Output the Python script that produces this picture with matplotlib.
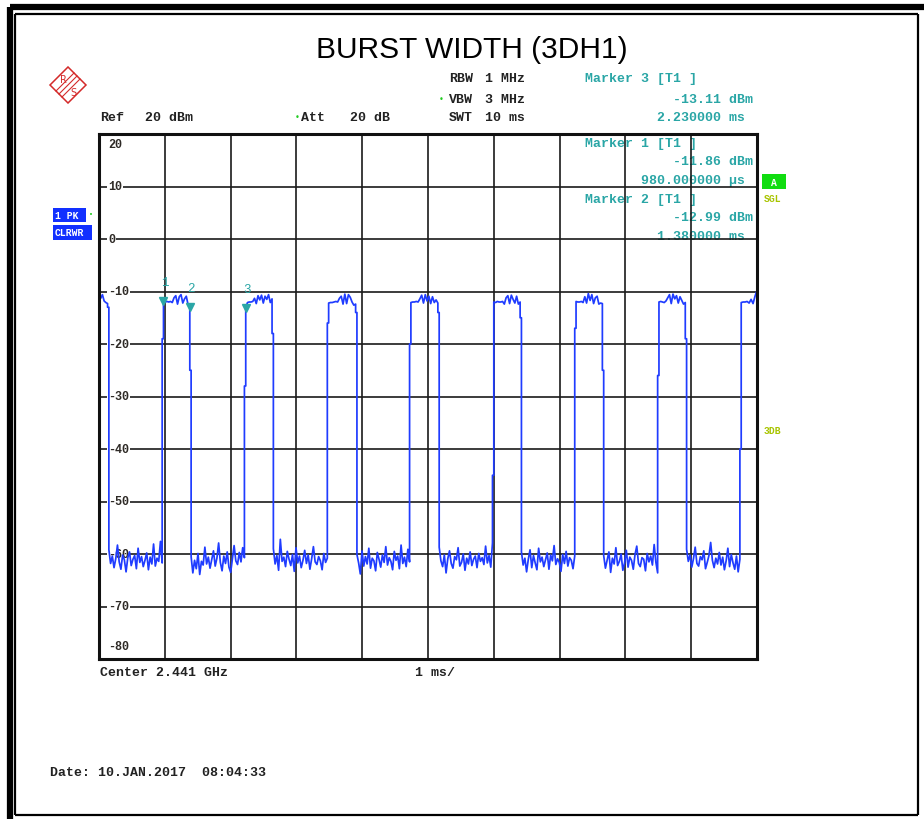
import numpy as np
import matplotlib
matplotlib.use('Agg')
import matplotlib.pyplot as plt
from matplotlib.lines import Line2D
from matplotlib.patches import Polygon, Rectangle

# Trace data (time in ms, level in dBm)
rise_t = [0.98, 2.23, 3.49, 4.74, 6.00, 7.25, 8.51, 9.76]
fall_t = [0.13, 1.38, 2.63, 3.90, 5.15, 6.40, 7.65, 8.91]
rise_mid = [-19, -28, -16, -20, -45, -17, -26, -40]
fall_mid = [-13, -25, -18, -14, -14, -15, -25, -19]

top_first = [-10.9, -11.3, -10.6, -11.8, -12.1, -12.3]
tops = [
    [-11.86, -12.0, -11.9, -12.0, -11.9, -12.1, -11.2, -10.8, -12.4, -11.0, -10.6, -12.2, -11.4, -10.9, -12.5, -12.99],
    [-13.11, -12.1, -12.0, -12.0, -11.9, -11.3, -12.3, -10.8, -11.6, -10.7, -12.2, -10.9, -11.5, -10.6, -12.1, -11.4],
    [-12.2, -12.1, -12.1, -12.0, -11.9, -12.0, -11.3, -10.9, -12.4, -10.5, -12.3, -10.6, -11.1, -12.0, -12.6, -12.4],
    [-12.1, -12.0, -12.0, -11.9, -12.0, -11.4, -10.7, -12.2, -10.6, -11.8, -10.9, -12.3, -11.0, -12.1, -11.6, -12.2],
    [-12.0, -12.1, -11.9, -12.0, -12.0, -11.9, -12.4, -11.2, -10.8, -12.3, -10.7, -11.5, -12.2, -10.9, -12.4, -12.0],
    [-11.9, -12.0, -12.0, -11.9, -12.1, -11.0, -12.2, -10.4, -11.7, -10.6, -12.3, -11.2, -10.9, -12.4, -12.2, -12.3],
    [-12.0, -11.9, -12.0, -12.1, -11.8, -11.2, -10.6, -12.3, -10.5, -11.4, -10.8, -12.2, -11.0, -11.7, -12.4, -12.1],
    [-12.1, -12.0, -12.0, -11.9, -12.2, -11.5, -12.3, -10.9, -9.8],
]
noise = [
    [-59.2, -61.8, -60.4, -62.6, -60.9, -58.3, -61.5, -62.9, -60.2, -61.1, -63.4, -60.7, -59.6, -62.2, -61.0, -60.3,
     -62.8, -58.9, -61.6, -60.5, -62.4, -61.2, -59.8, -63.0, -60.6, -61.9, -58.1, -62.3, -60.8, -61.4, -57.6, -61.7],
    [-60.5, -63.6, -61.2, -62.8, -59.9, -63.9, -61.4, -62.1, -58.7, -61.9, -60.6, -62.7, -61.0, -59.4, -62.3, -60.8,
     -57.9, -61.6, -63.2, -60.4, -61.8, -59.6, -62.5, -63.5, -60.9, -58.4, -61.3, -62.0, -59.7, -61.5, -58.8, -60.7],
    [-59.0, -61.9, -60.3, -63.1, -57.2, -61.4, -60.6, -62.4, -59.5, -61.0, -62.2, -60.1, -63.3, -58.8, -61.7, -60.4,
     -62.6, -61.2, -59.3, -61.8, -60.2, -62.9, -60.9, -58.6, -61.5, -62.0, -60.5, -61.3, -63.0, -59.9, -61.6, -60.8],
    [-60.1, -61.7, -63.8, -59.4, -62.3, -60.5, -61.9, -58.9, -62.7, -60.8, -61.3, -63.2, -59.7, -61.0, -62.5, -60.2,
     -61.6, -58.6, -62.1, -60.7, -61.4, -63.0, -59.5, -61.2, -60.4, -62.8, -58.3, -61.8, -60.6, -62.4, -59.1, -61.5],
    [-58.7, -61.3, -62.4, -60.2, -63.6, -60.9, -59.4, -61.8, -62.7, -60.5, -61.1, -58.8, -62.3, -61.6, -60.0, -63.1,
     -60.8, -61.9, -59.6, -62.2, -61.0, -60.4, -62.6, -59.9, -61.4, -60.7, -62.0, -58.5, -61.7, -60.3, -62.5, -57.9],
    [-59.6, -62.1, -60.8, -63.4, -61.0, -59.2, -62.6, -60.3, -61.7, -63.0, -58.9, -61.5, -60.6, -62.4, -61.1, -59.8,
     -62.9, -60.2, -61.3, -58.4, -62.0, -60.9, -61.6, -63.3, -60.1, -61.8, -59.5, -62.3, -60.7, -61.2, -62.8, -60.4],
    [-60.3, -62.7, -61.1, -59.6, -63.5, -60.8, -61.9, -58.8, -62.2, -61.4, -60.0, -63.1, -61.7, -59.3, -62.5, -60.6,
     -61.2, -62.9, -60.1, -58.5, -61.8, -62.4, -60.7, -61.0, -63.2, -59.9, -61.5, -60.4, -62.1, -58.2, -61.6, -63.6],
    [-59.1, -61.4, -60.2, -62.5, -60.9, -58.7, -61.8, -62.3, -60.5, -61.1, -59.4, -62.8, -61.6, -60.3, -57.8, -61.2,
     -62.6, -60.8, -61.9, -59.7, -62.1, -60.6, -63.0, -61.3, -58.9, -62.4, -60.1, -61.7, -62.9, -60.4, -63.4, -61.0],
]

marker_t = [0.98, 1.38, 2.23]
marker_lvl = [-11.86, -12.99, -13.11]
marker_ids = ['1', '2', '3']

y_ticks = [20, 10, 0, -10, -20, -30, -40, -50, -60, -70, -80]

W, H = 924, 820
TEAL = '#2aa6a6'
MONO = 'Liberation Mono'


def fx(px):
    return px / W


def fy(py):
    return 1 - py / H


def build_trace():
    xs = list(np.linspace(0, fall_t[0], len(top_first)))
    ys = list(top_first)
    for i in range(len(rise_t)):
        tf, tr = fall_t[i], rise_t[i]
        # falling edge
        xs += [tf, tf + 0.02]
        ys += [fall_mid[i], fall_mid[i]]
        # noise floor
        xs += list(np.linspace(tf + 0.02, tr - 0.02, len(noise[i])))
        ys += noise[i]
        # rising edge
        xs += [tr - 0.02, tr]
        ys += [rise_mid[i], rise_mid[i]]
        # burst top
        end = fall_t[i + 1] if i + 1 < len(fall_t) else 10.0
        xs += list(np.linspace(tr, end, len(tops[i])))
        ys += tops[i]
    return xs, ys


fig = plt.figure(figsize=(W / 100, H / 100), dpi=100)

# page frame
for x0, y0, x1, y1, lw in [(10, 8, 924, 8, 4.5), (10, 8, 10, 820, 4.5),
                           (15, 15, 918, 15, 1.6), (15, 15, 15, 816, 1.6),
                           (15, 816, 918, 816, 1.6), (918, 15, 918, 816, 1.6)]:
    fig.add_artist(Line2D([fx(x0), fx(x1)], [fy(y0), fy(y1)], color='black', lw=lw,
                          solid_capstyle='butt', transform=fig.transFigure))

fig.text(fx(472), fy(50), 'BURST WIDTH (3DH1)', ha='center', va='center', fontsize=21.5,
         family=['Liberation Sans Narrow', 'Liberation Sans'])

# R&S logo
lax = fig.add_axes([fx(48), fy(106), 40 / W, 40 / H])
lax.set_xlim(0, 40)
lax.set_ylim(40, 0)
lax.axis('off')
red = '#d42a2a'
lax.add_patch(Polygon([(20, 2), (38, 20), (20, 38), (2, 20)], closed=True, fill=False, ec=red, lw=1.1))
for d in (-3, 0, 3):
    lax.plot([11 + d, 29 + d], [29 + d, 11 + d], color=red, lw=0.8)
lax.text(15, 14, 'R', color=red, fontsize=7, ha='center', va='center')
lax.text(25, 27, 'S', color=red, fontsize=7, ha='center', va='center')

# main trace axes
ax = fig.add_axes([fx(99), fy(660), 658 / W, 525 / H])
ax.set_xlim(0, 10)
ax.set_ylim(-80, 20)
ax.set_xticks(np.arange(0, 11, 1))
ax.set_yticks(y_ticks)
ax.tick_params(length=0, labelbottom=False, labelleft=False)
ax.grid(True, color='#1a1a1a', lw=1.2)
ax.set_axisbelow(False)
for s in ax.spines.values():
    s.set_linewidth(2.2)
    s.set_color('#111111')
    s.set_zorder(5)

xs, ys = build_trace()
ax.plot(xs, ys, color='#1f3cff', lw=1.25, zorder=4)
ax.plot(marker_t, marker_lvl, 'v', color=TEAL, ms=5.5, zorder=6)
for tm, v, m in zip(marker_t, marker_lvl, marker_ids):
    ax.text(tm + 0.02, v + 3.6, m, color=TEAL, fontsize=9, family=MONO, ha='center', va='center', zorder=6)

for v in y_ticks:
    yy = v
    if v == 20:
        yy = 18.1
    elif v == -80:
        yy = -77.6
    ax.text(0.135, yy, f'{v}', fontsize=8.5, family=MONO, weight='bold', color='#2e2a26',
            ha='left', va='center', zorder=3,
            bbox=dict(boxstyle='square,pad=0.1', fc='white', ec='none'))


# header / marker readout text
def t(px, py, s, color='#222222', ha='left', size=9.5, weight='bold'):
    ax.text(fx(px), fy(py), s, transform=fig.transFigure, ha=ha, va='center', fontsize=size,
            family=MONO, weight=weight, color=color, zorder=1, clip_on=False)


t(100, 118, 'Ref')
t(145, 118, '20 dBm')
t(301, 118, 'Att')
t(350, 118, '20 dB')
t(449, 79, 'RBW')
t(485, 79, '1 MHz')
t(449, 100, 'VBW')
t(485, 100, '3 MHz')
t(449, 118, 'SWT')
t(485, 118, '10 ms')
fig.text(fx(297), fy(118), '•', color='#22cc22', fontsize=6, ha='center', va='center')
fig.text(fx(441), fy(100), '•', color='#22cc22', fontsize=6, ha='center', va='center')

t(585, 79, 'Marker 3 [T1 ]', TEAL)
t(753, 100, '-13.11 dBm', TEAL, 'right')
t(745, 118, '2.230000 ms', TEAL, 'right')
t(585, 144, 'Marker 1 [T1 ]', TEAL)
t(753, 162, '-11.86 dBm', TEAL, 'right')
t(745, 181, '980.000000 µs', TEAL, 'right')
t(585, 200, 'Marker 2 [T1 ]', TEAL)
t(753, 218, '-12.99 dBm', TEAL, 'right')
t(745, 237, '1.380000 ms', TEAL, 'right')

t(100, 673, 'Center 2.441 GHz')
t(415, 673, '1 ms/')
t(50, 773, 'Date: 10.JAN.2017  08:04:33')

# side indicators
for x0, y0, w, h, s in [(53, 209, 33, 14, '1 PK'), (53, 226, 39, 15, 'CLRWR')]:
    fig.add_artist(Rectangle((fx(x0), fy(y0 + h)), w / W, h / H, transform=fig.transFigure,
                             fc='#1230ff', ec='none'))
    fig.text(fx(x0 + 2), fy(y0 + h / 2), s, color='white', fontsize=7, family=MONO, weight='bold',
             va='center', ha='left')
fig.text(fx(91), fy(215), '•', color='#22cc22', fontsize=5, ha='center', va='center')

fig.add_artist(Rectangle((fx(762), fy(190)), 24 / W, 15 / H, transform=fig.transFigure,
                         fc='#11dd11', ec='none'))
fig.text(fx(774), fy(182.5), 'A', color='white', fontsize=7, family=MONO, weight='bold',
         ha='center', va='center')
fig.text(fx(764), fy(199), 'SGL', color='#a8c400', fontsize=7, family=MONO, weight='bold', va='center')
fig.text(fx(764), fy(431), '3DB', color='#a8c400', fontsize=7, family=MONO, weight='bold', va='center')

fig.savefig('out.png', dpi=100, facecolor='white')
